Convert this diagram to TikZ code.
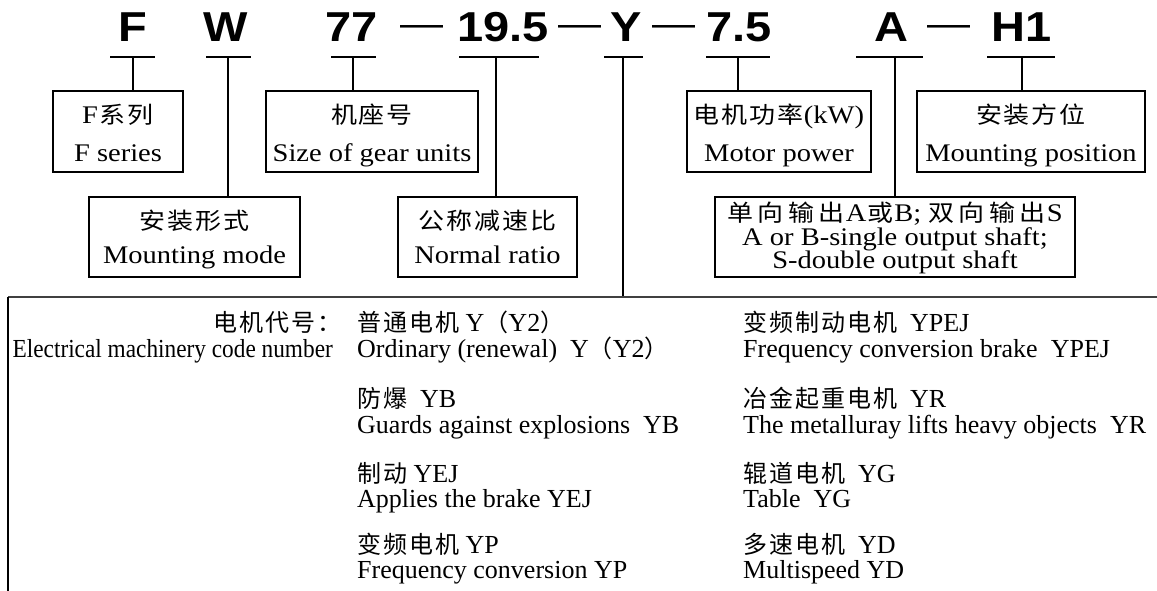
\documentclass[tikz,border=0pt]{standalone}
\usepackage{graphicx}
\usepackage{fontspec}
\setmainfont{Liberation Serif}
\newfontfamily\cjk{Noto Sans CJK SC}
\newfontfamily\hv{Liberation Sans}
\newcommand\vs[1]{\scalebox{1}[0.89]{#1}}
\newcommand\topsz{\fontsize{28.5}{30}\selectfont}
\newcommand\bsz{\fontsize{26}{28}\selectfont}
\newcommand\zt[1]{{\cjk\fontsize{26}{27}\selectfont #1}}
\newcommand\zb[1]{{\cjk\fontsize{24}{25}\selectfont #1}}
\newcommand\ks{\kern2pt}
\newcommand\kb{\kern2pt}
\newcommand\kw{\kern4.5pt}
\newcommand\bl[1]{\vs{\hv\bfseries\fontsize{47}{47}\selectfont #1}}
\newcommand\dsh{\vs{\hv\fontsize{43}{43}\selectfont —}}
\newcommand\en[1]{\vs{\topsz #1}}
\tikzset{
  box/.style={draw, line width=1.2pt, inner sep=0pt, minimum height=81pt},
  lbl/.style={inner sep=0pt, anchor=base},
  lbw/.style={inner sep=0pt, anchor=base west},
  lbe/.style={inner sep=0pt, anchor=base east},
  link/.style={line width=1.2pt},
  mainline/.style={line width=1.8pt, draw=black!75},
  sideline/.style={line width=1.1pt}
}
\begin{document}
\begin{tikzpicture}[x=1pt,y=-1pt]
\useasboundingbox (0,0) rectangle (1157,591);
% code letters
\node[lbl] (tF) at (133,42) {\bl{F}};
\node[lbl] (tW) at (226,42) {\bl{W}};
\node[lbl] (t77) at (352,42) {\bl{77}};
\node[lbl] (d1) at (422,37) {\dsh};
\node[lbl] (t195) at (503,42) {\bl{19.5}};
\node[lbl] (d2) at (580,37) {\dsh};
\node[lbl] (tY) at (626,42) {\bl{Y}};
\node[lbl] (d3) at (674,37) {\dsh};
\node[lbl] (t75) at (739,42) {\bl{7.5}};
\node[lbl] (tA) at (891,42) {\bl{A}};
\node[lbl] (d4) at (949,37) {\dsh};
\node[lbl] (tH) at (1022,42) {\bl{H1}};
% bars
\coordinate (bFl) at (110,57); \coordinate (bFr) at (155,57); \coordinate (bFc) at (133,57);
\coordinate (bWl) at (206,57); \coordinate (bWr) at (251,57); \coordinate (bWc) at (228,57);
\coordinate (b7l) at (331,57); \coordinate (b7r) at (376,57); \coordinate (b7c) at (353,57);
\coordinate (b1l) at (459,57); \coordinate (b1r) at (539,57); \coordinate (b1c) at (496,57);
\coordinate (bYl) at (604,57); \coordinate (bYr) at (643,57); \coordinate (bYc) at (623,57);
\coordinate (b5l) at (706,57); \coordinate (b5r) at (770,57); \coordinate (b5c) at (738,57);
\coordinate (bAl) at (856,57); \coordinate (bAr) at (923,57); \coordinate (bAc) at (895,57);
\coordinate (bHl) at (987,57); \coordinate (bHr) at (1055,57); \coordinate (bHc) at (1022,57);
\coordinate (mainL) at (8,297); \coordinate (mainR) at (1162,297); \coordinate (mainB) at (8,596);
% boxes
\node[box, minimum width=130pt] (bxF) at (118,131.5) {};
\node[box, minimum width=212pt] (bxS) at (372,131.5) {};
\node[box, minimum width=184pt] (bxM) at (779,131.5) {};
\node[box, minimum width=228pt] (bxP) at (1031,131.5) {};
\node[box, minimum width=211pt, minimum height=80pt] (bxMM) at (194.5,237) {};
\node[box, minimum width=179pt, minimum height=80pt] (bxN) at (487.5,237) {};
\node[box, minimum width=360pt, minimum height=80pt] (bxO) at (895,237) {};
% connectors
\foreach \p in {F,W,7,1,Y,5,A,H} \draw[link] (b\p l) -- (b\p r);
\draw[link] (bFc) -- (bFc |- bxF.north);
\draw[link] (bWc) -- (bWc |- bxMM.north);
\draw[link] (b7c) -- (b7c |- bxS.north);
\draw[link] (b1c) -- (b1c |- bxN.north);
\draw[link] (bYc) -- (bYc |- mainL);
\draw[link] (b5c) -- (b5c |- bxM.north);
\draw[link] (bAc) -- (bAc |- bxO.north);
\draw[link] (bHc) -- (bHc |- bxP.north);
\draw[mainline] (mainL) -- (mainR);
\draw[sideline] (mainL) -- (mainB);
% box texts
\node[lbl] (xF1) at (118,124) {\en{F\ks{}\zt{系\ks{}列}}};
\node[lbl] (xF2) at (118,162) {\en{F series}};
\node[lbl] (xS1) at (372,124) {\en{\zt{机\ks{}座\ks{}号}}};
\node[lbl] (xS2) at (372,162) {\en{Size of gear units}};
\node[lbl] (xM1) at (779,124) {\en{\zt{电\ks{}机\ks{}功\ks{}率}(kW)}};
\node[lbl] (xM2) at (779,162) {\en{Motor power}};
\node[lbl] (xP1) at (1031,124) {\en{\zt{安\ks{}装\ks{}方\ks{}位}}};
\node[lbl] (xP2) at (1031,162) {\en{Mounting position}};
\node[lbl] (xMM1) at (194.5,229) {\en{\zt{安\ks{}装\ks{}形\ks{}式}}};
\node[lbl] (xMM2) at (194.5,263) {\en{Mounting mode}};
\node[lbl] (xN1) at (487.5,229) {\en{\zt{公\ks{}称\ks{}减\ks{}速\ks{}比}}};
\node[lbl] (xN2) at (487.5,263) {\en{Normal ratio}};
\node[lbl] (xO1) at (895,221) {\en{\zt{单\kw{}向\kw{}输\kw{}出}\kern1pt A\kern1pt\zt{或}\kern1pt B; \zt{双\kw{}向\kw{}输\kw{}出}\kern1pt S}};
\node[lbl] (xO2) at (895,245) {\en{A or B-single output shaft;}};
\node[lbl] (xO3) at (895,268) {\en{S-double output shaft}};
% bottom legend
\node[lbe] (code1) at (342,331) {\zb{电\kb{}机\kb{}代\kb{}号\kb{}：}};
\node[lbe] (code2) at (333,357) {\scalebox{0.896}[1]{\bsz Electrical machinery code number}};
\node[lbw] (a1) at (357,331) {\bsz\zb{普\kb{}通\kb{}电\kb{}机} Y\zb{（}Y2\zb{）}};
\node[lbw] (a2) at (357,357) {\bsz Ordinary (renewal)\ \ Y\zb{（}Y2\zb{）}};
\node[lbw] (b1) at (357,407) {\bsz\zb{防\kb{}爆}\ \ YB};
\node[lbw] (b2) at (357,433) {\bsz Guards against explosions\ \ YB};
\node[lbw] (c1) at (357,482) {\bsz\zb{制\kb{}动} YEJ};
\node[lbw] (c2) at (357,507) {\bsz Applies the brake YEJ};
\node[lbw] (e1) at (357,553) {\bsz\zb{变\kb{}频\kb{}电\kb{}机} YP};
\node[lbw] (e2) at (357,578) {\bsz Frequency conversion YP};
\node[lbw] (f1) at (743,331) {\bsz\zb{变\kb{}频\kb{}制\kb{}动\kb{}电\kb{}机}\ \ YPEJ};
\node[lbw] (f2) at (743,357) {\bsz Frequency conversion brake\ \ YPEJ};
\node[lbw] (g1) at (743,407) {\bsz\zb{冶\kb{}金\kb{}起\kb{}重\kb{}电\kb{}机}\ \ YR};
\node[lbw] (g2) at (743,433) {\bsz The metalluray lifts heavy objects\ \ YR};
\node[lbw] (h1) at (743,482) {\bsz\zb{辊\kb{}道\kb{}电\kb{}机}\ \ YG};
\node[lbw] (h2) at (743,507) {\bsz Table\ \ YG};
\node[lbw] (k1) at (743,553) {\bsz\zb{多\kb{}速\kb{}电\kb{}机}\ \ YD};
\node[lbw] (k2) at (743,578) {\bsz Multispeed YD};
\end{tikzpicture}
\end{document}
